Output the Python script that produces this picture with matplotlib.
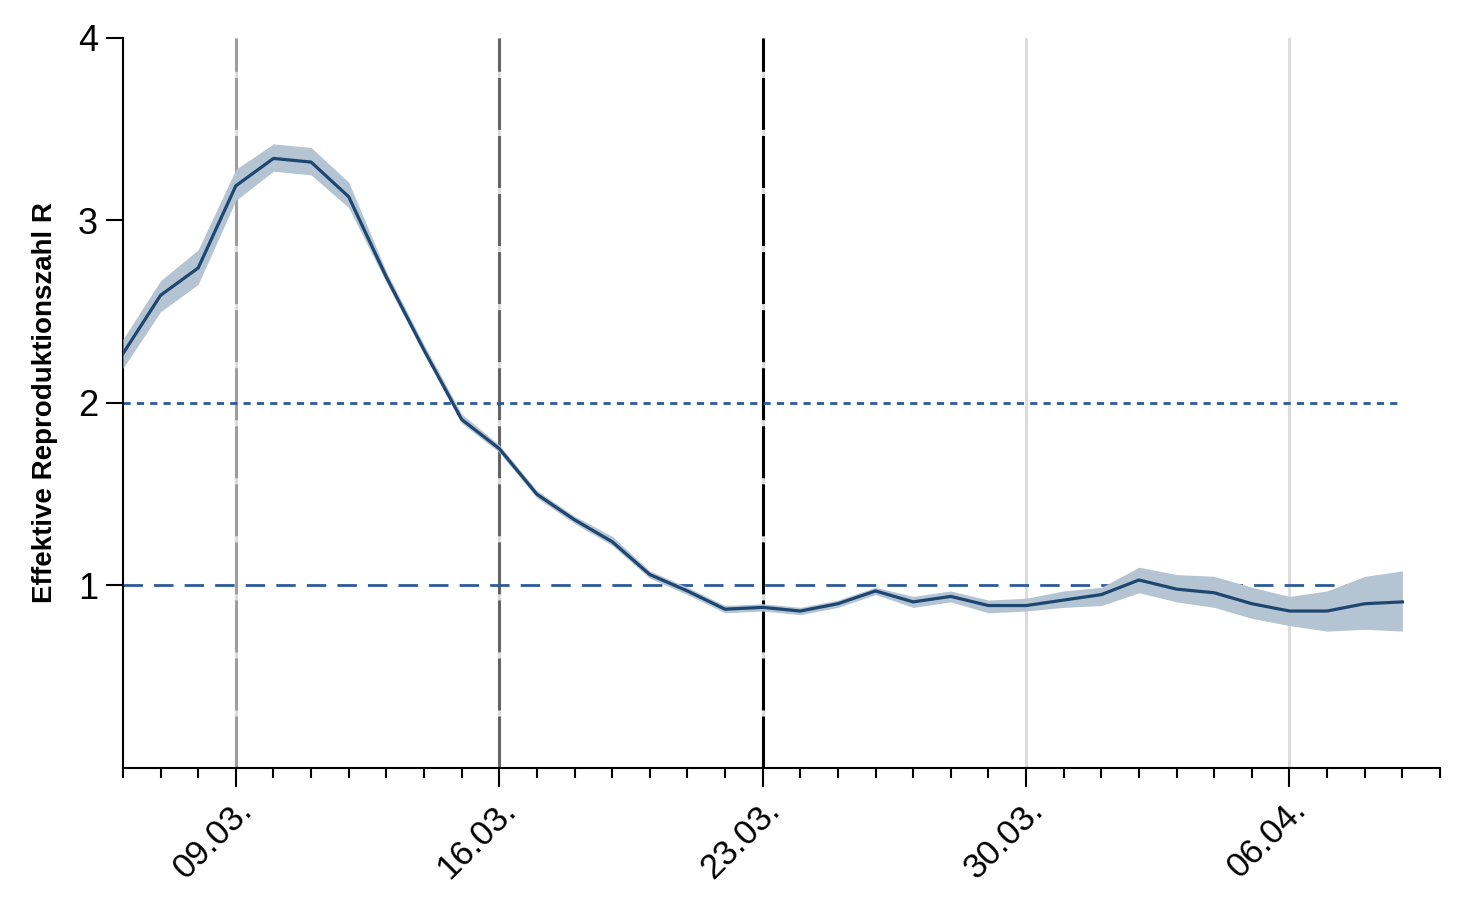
import matplotlib
matplotlib.use("Agg")
import matplotlib.pyplot as plt
import matplotlib.dates as mdates
import numpy as np

# Daily R estimates, 06.03.2020 - 09.04.2020
dates = np.arange(np.datetime64("2020-03-06"), np.datetime64("2020-04-10"), np.timedelta64(1, "D"))
r_mean = [2.27, 2.59, 2.74, 3.19, 3.34, 3.32, 3.13, 2.69, 2.29, 1.91,
          1.75, 1.50, 1.36, 1.24, 1.06, 0.97, 0.87, 0.88, 0.86, 0.90,
          0.97, 0.91, 0.94, 0.89, 0.89, 0.92, 0.95, 1.03, 0.98, 0.96,
          0.90, 0.86, 0.86, 0.90, 0.91]
r_low = [2.19, 2.50, 2.65, 3.11, 3.27, 3.25, 3.07, 2.66, 2.27, 1.89,
         1.73, 1.48, 1.34, 1.22, 1.04, 0.95, 0.85, 0.86, 0.84, 0.88,
         0.95, 0.88, 0.91, 0.85, 0.86, 0.88, 0.89, 0.96, 0.91, 0.88,
         0.82, 0.78, 0.75, 0.76, 0.75]
r_high = [2.35, 2.67, 2.84, 3.28, 3.42, 3.40, 3.21, 2.72, 2.32, 1.94,
          1.77, 1.52, 1.38, 1.27, 1.08, 0.99, 0.89, 0.90, 0.88, 0.92,
          0.99, 0.94, 0.97, 0.92, 0.93, 0.97, 0.99, 1.10, 1.06, 1.05,
          0.99, 0.94, 0.97, 1.05, 1.08]

# measures (dashed verticals) and weekly labels
measure_dates = [np.datetime64("2020-03-09"), np.datetime64("2020-03-16"), np.datetime64("2020-03-23")]
measure_colors = ["#9e9e9e", "#646464", "#000000"]
week_ticks = [np.datetime64("2020-03-09") + np.timedelta64(7 * i, "D") for i in range(5)]
week_labels = ["09.03.", "16.03.", "23.03.", "30.03.", "06.04."]

line_color = "#1d4670"
band_color = "#b4c4d3"
ref_color = "#2d5a98"

plt.rcParams["font.family"] = ["Liberation Sans", "DejaVu Sans"]

fig = plt.figure(figsize=(14.67, 8.98), dpi=100)
ax = fig.add_axes([0.0838, 0.1448, 0.8978, 0.8129])

# weekly grid
for d in week_ticks:
    ax.axvline(d, color="#dcdcdc", lw=2.2, zorder=0)
for d, c in zip(measure_dates, measure_colors):
    ax.axvline(d, color=c, lw=2.2, linestyle=(0, (17, 2)), zorder=1)

ax.plot([dates[0], dates[-1]], [2, 2], color=ref_color, lw=2.0, linestyle=(0, (2.6, 2.2)), zorder=2)
ax.plot([dates[0], dates[-1]], [1, 1], color=ref_color, lw=2.0, linestyle=(0, (7, 4)), zorder=2)

ax.fill_between(dates, r_low, r_high, color=band_color, lw=0, zorder=3)
ax.plot(dates, r_mean, color=line_color, lw=2.3, zorder=4)

ax.set_xlim(np.datetime64("2020-03-06"), np.datetime64("2020-04-10"))
ax.set_ylim(0, 4)
ax.set_yticks([1, 2, 3, 4])
ax.tick_params(axis="y", labelsize=26, length=12, width=1.5, direction="out", pad=6)

ax.set_xticks(week_ticks)
ax.set_xticklabels(week_labels, rotation=45, ha="right", rotation_mode="anchor")
ax.xaxis.set_minor_locator(mdates.DayLocator())
ax.tick_params(axis="x", which="major", labelsize=25, length=14, width=1.5, pad=4)
ax.tick_params(axis="x", which="minor", length=7, width=1.5)

for s in ["top", "right"]:
    ax.spines[s].set_visible(False)
for s in ["left", "bottom"]:
    ax.spines[s].set_linewidth(1.5)

ax.set_ylabel("Effektive Reproduktionszahl R", fontsize=20, fontweight="bold", labelpad=14)

fig.savefig("out.png", dpi=100)
